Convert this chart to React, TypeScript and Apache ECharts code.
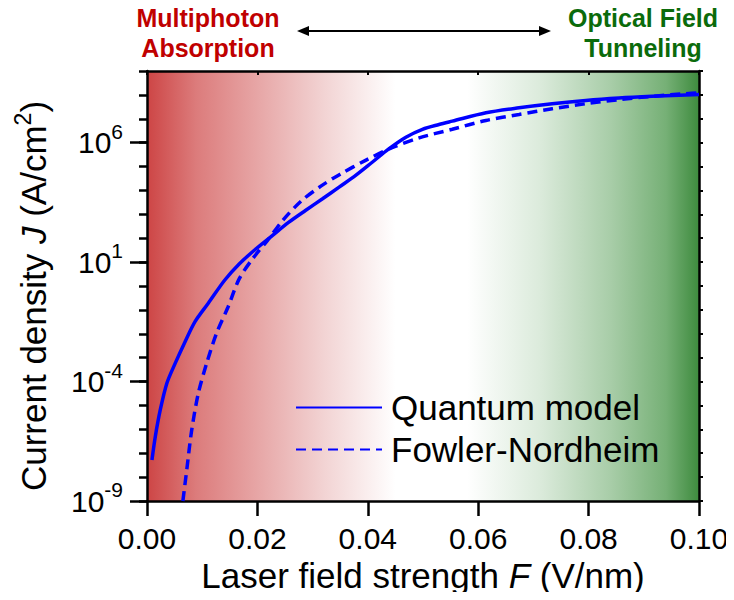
import { useEffect, useRef } from 'react';
import * as echarts from 'echarts';

const FONT = 'Arial, "Liberation Sans", sans-serif';

// x axis (F, V/nm)
const xMin = 0;
const xMax = 0.1;
const xStep = 0.02;

// y axis: exponents of J (A/cm^2), log10 scale
const yMinExp = -9;
const yMaxExp = 9;
const yLabelExponents = [-9, -4, 1, 6];

// Quantum model (solid)
const quantumF = [0.0009, 0.0015, 0.0024, 0.0036, 0.0051, 0.0069, 0.0087, 0.0111, 0.0141, 0.0167, 0.0197, 0.0227, 0.0257, 0.0287, 0.0318, 0.0348, 0.0378, 0.0408, 0.0438, 0.0469, 0.0499, 0.0529, 0.0553, 0.0614, 0.0674, 0.0734, 0.0795, 0.0855, 0.0915, 0.1];
const quantumLogJ = [-7.28, -6.31, -5.19, -4.07, -3.24, -2.33, -1.49, -0.72, 0.25, 0.92, 1.55, 2.11, 2.67, 3.16, 3.65, 4.14, 4.63, 5.18, 5.74, 6.23, 6.56, 6.76, 6.9, 7.25, 7.46, 7.63, 7.77, 7.87, 7.94, 8.02];

// Fowler-Nordheim (dashed)
const fnF = [0.0065, 0.0072, 0.0081, 0.0093, 0.0108, 0.0126, 0.0147, 0.0167, 0.0191, 0.0218, 0.0245, 0.0279, 0.0315, 0.035, 0.0396, 0.0444, 0.0493, 0.0553, 0.0614, 0.0674, 0.0734, 0.0795, 0.0855, 0.0915, 0.0976, 0.1];
const fnLogJ = [-9.0, -7.7, -6.03, -4.49, -3.24, -1.98, -0.87, 0.3, 1.13, 1.9, 2.72, 3.55, 4.18, 4.68, 5.26, 5.79, 6.2, 6.56, 6.93, 7.18, 7.42, 7.63, 7.8, 7.94, 8.05, 8.09];

const seriesNames = ['Quantum model', 'Fowler-Nordheim'];

export default function App() {
  const ref = useRef<HTMLDivElement>(null);
  useEffect(() => {
    if (!ref.current) return;
    const chart = echarts.init(ref.current, null, { renderer: 'svg' });
    const black = '#000';
    const axisLine = { show: true, onZero: false, lineStyle: { color: black, width: 2.5 } };
    const option: any = {
      animation: false,
      textStyle: { fontFamily: FONT },
      grid: {
        left: 147,
        right: 35,
        top: 71,
        bottom: 99,
        show: true,
        borderWidth: 0,
        backgroundColor: new echarts.graphic.LinearGradient(0, 0, 1, 0, [
          { offset: 0, color: '#cd4545' },
          { offset: 0.09, color: '#dc7c7c' },
          { offset: 0.19, color: '#e6a2a2' },
          { offset: 0.32, color: '#f2d3d3' },
          { offset: 0.45, color: '#ffffff' },
          { offset: 0.58, color: '#ffffff' },
          { offset: 0.71, color: '#dcebdc' },
          { offset: 0.84, color: '#a8cda8' },
          { offset: 0.94, color: '#76b076' },
          { offset: 1, color: '#3e8b3e' },
        ]),
      },
      xAxis: [
        {
          type: 'value',
          position: 'bottom',
          min: xMin,
          max: xMax,
          interval: xStep,
          axisLine,
          axisTick: { show: true, length: 15, lineStyle: { color: black, width: 2.5 } },
          splitLine: { show: false },
          axisLabel: {
            margin: 22,
            fontSize: 30,
            color: black,
            fontFamily: FONT,
            formatter: (v: number) => v.toFixed(2),
          },
          name: 'Laser field strength {i|F} (V/nm)',
          nameLocation: 'middle',
          nameGap: 57,
          nameTextStyle: {
            fontSize: 35,
            color: black,
            fontFamily: FONT,
            rich: { i: { fontSize: 35, fontStyle: 'italic', color: black, fontFamily: FONT } },
          },
        },
        {
          type: 'value',
          position: 'top',
          min: xMin,
          max: xMax,
          interval: xStep,
          axisLine,
          axisTick: { show: true, inside: true, length: 4, lineStyle: { color: black, width: 2 } },
          axisLabel: { show: false },
          splitLine: { show: false },
        },
      ],
      yAxis: [
        {
          type: 'value',
          position: 'left',
          min: yMinExp,
          max: yMaxExp,
          interval: 1,
          axisLine,
          axisTick: { show: true, customValues: yLabelExponents, length: 17, lineStyle: { color: black, width: 2.5 } },
          splitLine: { show: false },
          axisLabel: {
            margin: 24,
            color: black,
            fontFamily: FONT,
            formatter: (v: number) => (yLabelExponents.includes(v) ? `{b|10}{s|${v}}` : ''),
            rich: {
              b: { fontSize: 30, lineHeight: 44, color: black, fontFamily: FONT },
              s: { fontSize: 21, lineHeight: 21, verticalAlign: 'top', color: black, fontFamily: FONT },
            },
          },
          name: 'Current density {i|J} (A/cm{s|2})',
          nameLocation: 'middle',
          nameGap: 92,
          nameTextStyle: {
            fontSize: 35,
            lineHeight: 44,
            color: black,
            fontFamily: FONT,
            padding: [0, 20, 0, 0],
            rich: {
              i: { fontSize: 35, lineHeight: 44, fontStyle: 'italic', color: black, fontFamily: FONT },
              s: { fontSize: 23, lineHeight: 23, verticalAlign: 'top', color: black, fontFamily: FONT },
            },
          },
        },
        {
          type: 'value',
          position: 'left',
          min: yMinExp,
          max: yMaxExp,
          interval: 1,
          axisLine: { show: false, onZero: false },
          axisTick: { show: true, length: 8, lineStyle: { color: black, width: 2.5 } },
          axisLabel: { show: false },
          splitLine: { show: false },
        },
        {
          type: 'value',
          position: 'right',
          min: yMinExp,
          max: yMaxExp,
          interval: 1,
          axisLine,
          axisTick: { show: true, length: 4, lineStyle: { color: black, width: 2 } },
          axisLabel: { show: false },
          splitLine: { show: false },
        },
      ],
      legend: {
        data: seriesNames,
        orient: 'vertical',
        left: 295,
        top: 390,
        padding: 0,
        itemWidth: 86,
        itemHeight: 14,
        itemGap: 7,
        itemStyle: { opacity: 0 },
        textStyle: { fontSize: 35, color: black, fontFamily: FONT, padding: [0, 0, 0, 4] },
      },
      series: [
        {
          name: seriesNames[0],
          type: 'line',
          xAxisIndex: 0,
          yAxisIndex: 0,
          smooth: 0.3,
          symbol: 'none',
          lineStyle: { color: '#0000ff', width: 3.5, type: 'solid' },
          itemStyle: { color: '#0000ff' },
          data: quantumF.map((f, i) => [f, quantumLogJ[i]]),
        },
        {
          name: seriesNames[1],
          type: 'line',
          xAxisIndex: 0,
          yAxisIndex: 0,
          smooth: 0.3,
          symbol: 'none',
          lineStyle: { color: '#0000ff', width: 3.5, type: [10, 6] },
          itemStyle: { color: '#0000ff' },
          data: fnF.map((f, i) => [f, fnLogJ[i]]),
        },
      ],
      graphic: [
        {
          type: 'text',
          x: 208,
          y: 18,
          style: { text: 'Multiphoton', fill: '#c00000', fontSize: 25, fontWeight: 'bold', fontFamily: FONT, align: 'center', verticalAlign: 'middle' },
        },
        {
          type: 'text',
          x: 208,
          y: 48,
          style: { text: 'Absorption', fill: '#c00000', fontSize: 25, fontWeight: 'bold', fontFamily: FONT, align: 'center', verticalAlign: 'middle' },
        },
        {
          type: 'text',
          x: 643,
          y: 18,
          style: { text: 'Optical Field', fill: '#0b6b0b', fontSize: 25, fontWeight: 'bold', fontFamily: FONT, align: 'center', verticalAlign: 'middle' },
        },
        {
          type: 'text',
          x: 643,
          y: 48,
          style: { text: 'Tunneling', fill: '#0b6b0b', fontSize: 25, fontWeight: 'bold', fontFamily: FONT, align: 'center', verticalAlign: 'middle' },
        },
        {
          type: 'line',
          shape: { x1: 305, y1: 31, x2: 543, y2: 31 },
          style: { stroke: black, lineWidth: 2 },
        },
        {
          type: 'polygon',
          shape: { points: [[297, 31], [309, 26], [309, 36]] },
          style: { fill: black },
        },
        {
          type: 'polygon',
          shape: { points: [[551, 31], [539, 26], [539, 36]] },
          style: { fill: black },
        },
      ],
    };
    chart.setOption(option);
    return () => chart.dispose();
  }, []);
  return <div ref={ref} style={{ width: 734, height: 600, margin: -8 }} />;
}
